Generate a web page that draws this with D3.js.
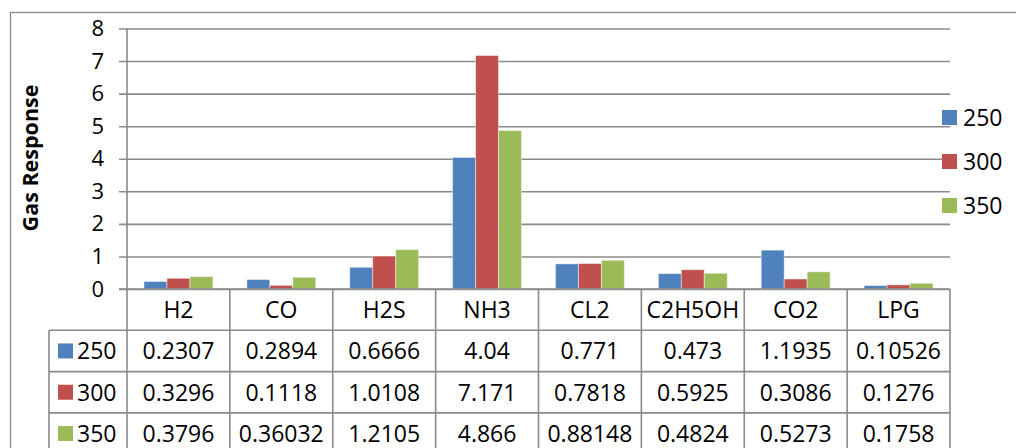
<!DOCTYPE html>
<html>
<head>
<meta charset="utf-8">
<script src="https://cdn.jsdelivr.net/npm/d3@7"></script>
<style>
  body { margin: 0; background: #fff; }
  svg { display: block; }
  text { font-family: "Open Sans", "Noto Sans", sans-serif; fill: #000; }
</style>
</head>
<body>
<svg id="chart" width="1016" height="448"></svg>
<script>
// Gas sensor response at three operating temperatures
const gases = ["H2", "CO", "H2S", "NH3", "CL2", "C2H5OH", "CO2", "LPG"];
const temps = ["250", "300", "350"];
const resp250 = [0.2307, 0.2894, 0.6666, 4.04, 0.771, 0.473, 1.1935, 0.10526];
const resp300 = [0.3296, 0.1118, 1.0108, 7.171, 0.7818, 0.5925, 0.3086, 0.1276];
const resp350 = [0.3796, 0.36032, 1.2105, 4.866, 0.88148, 0.4824, 0.5273, 0.1758];
const yTicks = [0, 1, 2, 3, 4, 5, 6, 7, 8];
const yTitle = "Gas Response";

const seriesValues = [resp250, resp300, resp350];
const colors = ["#4F81BD", "#C0504D", "#9BBB59"];

const svg = d3.select("#chart");
const gridColor = "#8a8a8a";
const textSize = "23px";

const plot = { left: 127, right: 950, top: 28.5, bottom: 289 };
const rowH = 41.3;

// outer chart frame
svg.append("rect")
  .attr("x", 10.5).attr("y", 12.5)
  .attr("width", 1200).attr("height", 600)
  .attr("fill", "none").attr("stroke", gridColor).attr("stroke-width", 1.3);

const x = d3.scaleBand().domain(gases).range([plot.left, plot.right]);
const bw = x.bandwidth();
const xs = d3.scaleBand().domain(temps).range([bw * 0.165, bw * 0.835]);
const y = d3.scaleLinear().domain([0, 8]).range([plot.bottom, plot.top]);

// gridlines + tick labels
const yAxis = svg.append("g")
  .attr("transform", `translate(${plot.left - 8},0)`)
  .call(d3.axisLeft(y).tickValues(yTicks).tickFormat(d3.format("d"))
    .tickSizeInner(-(plot.right - plot.left + 8)).tickSizeOuter(0).tickPadding(15));
yAxis.select(".domain").remove();
yAxis.selectAll(".tick line").attr("stroke", gridColor).attr("stroke-width", 1.6);
yAxis.selectAll(".tick text")
  .style("font-family", "'Open Sans', sans-serif").style("font-size", "22px").attr("fill", "#000");

// vertical axis line
svg.append("line")
  .attr("x1", plot.left).attr("x2", plot.left)
  .attr("y1", plot.top).attr("y2", plot.bottom + rowH * 4)
  .attr("stroke", gridColor).attr("stroke-width", 1.6);

// axis title
svg.append("text")
  .attr("transform", `translate(38,158) rotate(-90)`)
  .attr("text-anchor", "middle")
  .style("font-size", "21.5px").style("font-weight", "bold")
  .text(yTitle);

// bars
const groups = svg.append("g").selectAll("g")
  .data(gases).join("g")
  .attr("transform", d => `translate(${x(d)},0)`);
groups.selectAll("rect")
  .data((g, i) => temps.map((t, s) => ({ t, s, v: seriesValues[s][i] })))
  .join("rect")
  .attr("x", d => xs(d.t))
  .attr("width", xs.bandwidth())
  .attr("y", d => y(d.v))
  .attr("height", d => y(0) - y(d.v))
  .attr("fill", d => colors[d.s])
  .attr("stroke", "#fff").attr("stroke-opacity", 0.45).attr("stroke-width", 1);

// data table
const table = svg.append("g");
const tLeft = 49;
const lineAttrs = sel => sel.attr("stroke", gridColor).attr("stroke-width", 1.6);

// row separators
for (let r = 1; r <= 4; r++) {
  table.append("line").call(lineAttrs)
    .attr("x1", tLeft).attr("x2", plot.right)
    .attr("y1", plot.bottom + rowH * r).attr("y2", plot.bottom + rowH * r);
}
// column separators
table.append("line").call(lineAttrs)
  .attr("x1", tLeft).attr("x2", tLeft)
  .attr("y1", plot.bottom + rowH).attr("y2", plot.bottom + rowH * 4);
gases.forEach(g => {
  table.append("line").call(lineAttrs)
    .attr("x1", x(g) + bw).attr("x2", x(g) + bw)
    .attr("y1", plot.bottom).attr("y2", plot.bottom + rowH * 4);
});
// zero baseline over the bars
svg.append("line").call(lineAttrs)
  .attr("x1", plot.left - 8).attr("x2", plot.right)
  .attr("y1", plot.bottom).attr("y2", plot.bottom);

// header: gas names
table.selectAll("text.cat")
  .data(gases).join("text").attr("class", "cat")
  .attr("x", d => x(d) + bw / 2)
  .attr("y", plot.bottom + rowH / 2)
  .attr("dy", "0.36em")
  .attr("text-anchor", "middle")
  .style("font-size", textSize)
  .text(d => d);

// value rows
temps.forEach((t, s) => {
  const cy = plot.bottom + rowH * (s + 1.5);
  table.append("rect")
    .attr("x", 58).attr("y", cy - 7.5)
    .attr("width", 15).attr("height", 15)
    .attr("fill", colors[s]);
  table.append("text")
    .attr("x", 77).attr("y", cy).attr("dy", "0.36em")
    .style("font-size", textSize)
    .text(t);
  table.selectAll(null)
    .data(gases).join("text")
    .attr("x", d => x(d) + bw / 2)
    .attr("y", cy).attr("dy", "0.36em")
    .attr("text-anchor", "middle")
    .style("font-size", textSize)
    .text((d, i) => String(seriesValues[s][i]));
});

// legend
const legend = svg.append("g");
temps.forEach((t, s) => {
  const cy = 117.5 + s * 44;
  legend.append("rect")
    .attr("x", 942).attr("y", cy - 7.5)
    .attr("width", 15).attr("height", 15)
    .attr("fill", colors[s]);
  legend.append("text")
    .attr("x", 963).attr("y", cy).attr("dy", "0.36em")
    .style("font-size", textSize)
    .text(t);
});
</script>
</body>
</html>
